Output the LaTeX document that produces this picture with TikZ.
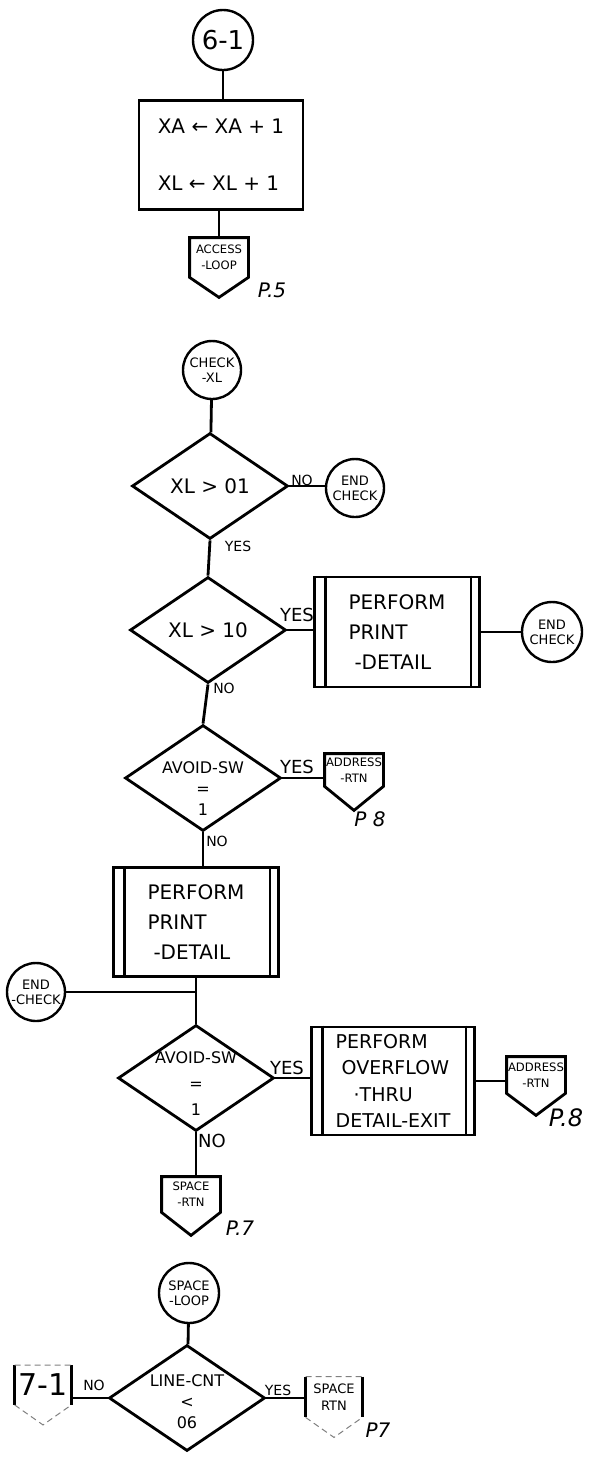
\documentclass[tikz,border=0pt]{standalone}
\usepackage{fontspec}
\setmainfont{DejaVu Sans}
\usetikzlibrary{shapes.geometric}

\begin{document}
\begin{tikzpicture}[x=0.5pt,y=-0.5pt,
  line/.style={line width=1.4pt},
  faint/.style={densely dashed,line width=0.5pt,gray},
  conn/.style={circle,draw,line width=1.2pt,minimum size=29pt,inner sep=0pt,align=center,font=\fontsize{6.5}{7.5}\selectfont},
  procbox/.style={rectangle,draw,line width=1.4pt,inner sep=0pt},
  predef/.style={procbox,align=left,font=\fontsize{10}{15}\selectfont},
  decision/.style={diamond,draw,line width=1.4pt,inner sep=0pt,minimum width=78pt,minimum height=53pt,font=\fontsize{10}{12}\selectfont},
  dtext/.style={align=center,inner sep=0pt,font=\fontsize{8}{10.5}\selectfont},
  pentnode/.style={inner sep=0pt,minimum width=29pt,align=center,font=\fontsize{5.8}{8}\selectfont},
  tag/.style={inner sep=0pt,font=\fontsize{7}{8}\selectfont},
  pageref/.style={inner sep=0pt,font=\itshape\fontsize{10}{12}\selectfont}]
  \useasboundingbox (0,0) rectangle (597,1464);

  % entry 6-1
  \node[conn,minimum size=30pt,font=\fontsize{13}{14}\selectfont] (c61) at (223,40) {6-1};
  \node[procbox,minimum width=82pt,minimum height=54.5pt,align=left,font=\fontsize{10}{12}\selectfont] (asg) at (221,155) {XA ← XA + 1\\[16.5pt]XL ← XL + 1};
  \node[pentnode,minimum height=19.5pt] (accloop) at (219,257.5) {ACCESS\\-LOOP};
  \node[pageref] (p5) at (272,290) {P.5};
  \draw[line] (c61.south) -- (c61.south |- asg.north);
  \draw[line] (accloop.north |- asg.south) -- (accloop.north);

  % check-xl
  \node[conn] (chkxl) at (212,370) {CHECK\\-XL};
  \node[decision] (d1) at (210,486) {XL > 01};
  \node[tag] (no1) at (302,480) {NO};
  \node[conn] (end1) at (355,488) {END\\CHECK};
  \node[tag] (yes1) at (238,546) {YES};
  \draw[line] (chkxl) -- (d1);
  \draw[line] (d1.east) -- (d1.east -| end1.west);

  \node[decision] (d2) at (208,630) {XL > 10};
  \node[predef,minimum width=82.5pt,minimum height=55pt] (pp1) at (397,632) {PERFORM\\PRINT\\\hspace*{3pt}-DETAIL};
  \node[tag,font=\fontsize{9}{10}\selectfont] (yes2) at (297,615) {YES};
  \node[conn,minimum size=30pt] (end2) at (552,632) {END\\CHECK};
  \node[tag] (no2) at (224,688) {NO};
  \draw[line] (d1.south) -- (d2.north);
  \draw[line] (d2.east) -- (d2.east -| pp1.west);
  \draw[line] (pp1.east) -- (end2.west);

  \node[decision] (d3) at (203,778) {};
  \node[dtext] (d3t) at (203,789) {AVOID-SW\\=\\1};
  \node[tag,font=\fontsize{9}{10}\selectfont] (yes3) at (297,767) {YES};
  \node[pentnode,minimum height=16pt] (addr1) at (354,770) {ADDRESS\\-RTN};
  \node[pageref] (p8a) at (370,819) {P 8};
  \node[tag] (no3) at (217,841) {NO};
  \draw[line] (d2.south) -- (d3.north);
  \draw[line] (d3.east) -- (d3.east -| addr1.west);

  \node[predef,minimum width=82.5pt,minimum height=54.5pt] (pp2) at (196,922) {PERFORM\\PRINT\\\hspace*{3pt}-DETAIL};
  \node[conn] (end3) at (36,992) {END\\-CHECK};
  \draw[line] (d3.south) -- (d3.south |- pp2.north);

  \node[decision] (d4) at (196,1078) {};
  \node[dtext,font=\fontsize{8}{13}\selectfont] (d4t) at (196,1084) {AVOID-SW\\=\\1};
  \node[tag,font=\fontsize{9}{10}\selectfont] (yes4) at (287,1068) {YES};
  \node[predef,minimum width=81.5pt,minimum height=54pt,font=\fontsize{9.5}{13.3}\selectfont] (pp3) at (393,1081) {PERFORM\\\hspace*{3pt}OVERFLOW\\\hspace*{9pt}·THRU\\DETAIL-EXIT};
  \node[pentnode,minimum height=18pt] (addr2) at (536,1075) {ADDRESS\\-RTN};
  \node[pageref,font=\itshape\fontsize{12}{14}\selectfont] (p8b) at (566,1118) {P.8};
  \node[tag,font=\fontsize{9}{10}\selectfont] (no4) at (212,1141) {NO};
  \draw[line] (d4.north |- pp2.south) -- (d4.north);
  \draw[line] (end3.east) -- (end3.east -| d4.north);
  \draw[line] (d4.east) -- (d4.east -| pp3.west);
  \draw[line] (pp3.east) -- (pp3.east -| addr2.west);

  \node[pentnode,minimum height=17.5pt] (spacertn) at (191,1194.5) {SPACE\\-RTN};
  \node[pageref] (p7a) at (240,1228) {P.7};
  \draw[line] (d4.south) -- (d4.south |- spacertn.north);

  % space-loop
  \node[conn,minimum size=30pt] (sploop) at (189,1293) {SPACE\\-LOOP};
  \node[decision] (d5) at (187,1398) {};
  \node[dtext] (d5t) at (187,1402) {LINE-CNT\\<\\06};
  \node[tag] (no5) at (94,1385) {NO};
  \node[pentnode,minimum width=28pt,minimum height=19.5pt,font=\fontsize{15}{16}\selectfont] (c71) at (43,1385) {7-1};
  \node[tag] (yes5) at (278,1390) {YES};
  \node[pentnode,minimum width=28pt,minimum height=20pt,font=\fontsize{6.5}{8.5}\selectfont] (sprtn2) at (334,1397) {SPACE\\RTN};
  \node[pageref] (p7b) at (378,1430) {P7};
  \draw[line] (sploop) -- (d5);
  \draw[line] (d5.west) -- (d5.west -| c71.east);
  \draw[line] (d5.east) -- (d5.east -| sprtn2.west);

  % off-page outlines
  \foreach \n/\d in {accloop/10pt,addr1/12pt,addr2/11pt,spacertn/11.5pt}
    \draw[line] (\n.north west) -- (\n.north east) -- (\n.south east) -- ([yshift=-\d]\n.south) -- (\n.south west) -- cycle;
  \foreach \n in {c71,sprtn2} {
    \draw[line] (\n.north west) -- (\n.south west) (\n.north east) -- (\n.south east);
    \draw[faint] (\n.north west) -- (\n.north east) (\n.south west) -- ([yshift=-10pt]\n.south) -- (\n.south east);
  }
  % predefined-process side bars
  \foreach \n in {pp1,pp2,pp3} {
    \draw[line] ([xshift=6pt]\n.north west) -- ([xshift=6pt]\n.south west);
    \draw[line] ([xshift=-5pt]\n.north east) -- ([xshift=-5pt]\n.south east);
  }
\end{tikzpicture}
\end{document}
